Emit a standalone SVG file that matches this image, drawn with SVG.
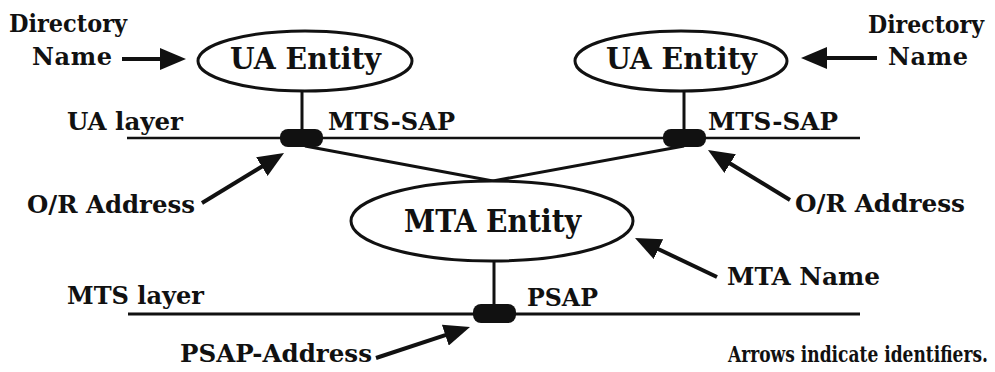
<svg xmlns="http://www.w3.org/2000/svg" width="995" height="372" viewBox="0 0 995 372">
<style>
text{font-family:"DejaVu Serif","Liberation Serif",serif;font-weight:bold;fill:#111;}
.lab{font-size:24px;}
.ent{font-size:29px;}
.mta{font-size:32px;}
.note{font-size:17px;}
.ell{fill:#fff;stroke:#111;stroke-width:3;}
.ln{stroke:#111;stroke-width:2.5;fill:none;}
.thick{stroke:#111;stroke-width:3;fill:none;}
.arr{stroke:#111;stroke-width:4;fill:none;marker-end:url(#ah);}
.sap{fill:#111;}
</style>
<defs>
<marker id="ah" markerUnits="userSpaceOnUse" markerWidth="26" markerHeight="22" refX="16" refY="11" orient="auto">
<path d="M0,0 L26,11 L0,22 z" fill="#111"/>
</marker>
</defs>
<g id="layers">
<line class="ln" x1="127" y1="138" x2="860" y2="138"/>
<line class="thick" x1="128" y1="314" x2="860" y2="314"/>
<text class="lab" x="67" y="130" textLength="116" lengthAdjust="spacingAndGlyphs">UA layer</text>
<text class="lab" x="67" y="304" textLength="137" lengthAdjust="spacingAndGlyphs">MTS layer</text>
</g>
<g id="connectors">
<line class="thick" x1="302" y1="90" x2="302" y2="132"/>
<line class="thick" x1="684" y1="90" x2="684" y2="132"/>
<line class="thick" x1="494" y1="261" x2="494" y2="306"/>
<line class="thick" x1="305" y1="146" x2="493" y2="181"/>
<line class="thick" x1="684" y1="146" x2="493" y2="181"/>
</g>
<g id="ua-left">
<ellipse class="ell" cx="305" cy="61" rx="107" ry="30"/>
<text class="ent" x="230" y="69" textLength="151" lengthAdjust="spacingAndGlyphs">UA Entity</text>
</g>
<g id="ua-right">
<ellipse class="ell" cx="681" cy="61" rx="106" ry="30"/>
<text class="ent" x="606" y="69" textLength="151" lengthAdjust="spacingAndGlyphs">UA Entity</text>
</g>
<g id="mta">
<ellipse class="ell" cx="492" cy="221" rx="141" ry="40"/>
<text class="mta" x="404" y="232" textLength="177" lengthAdjust="spacingAndGlyphs">MTA Entity</text>
</g>
<g id="sap-left">
<rect class="sap" x="280" y="129" width="43" height="18" rx="8"/>
<text class="lab" x="328" y="130" textLength="127" lengthAdjust="spacingAndGlyphs">MTS-SAP</text>
</g>
<g id="sap-right">
<rect class="sap" x="663" y="129" width="43" height="18" rx="8"/>
<text class="lab" x="708" y="130" textLength="130" lengthAdjust="spacingAndGlyphs">MTS-SAP</text>
</g>
<g id="psap">
<rect class="sap" x="473" y="304" width="43" height="19" rx="8"/>
<text class="lab" x="527" y="306" textLength="71" lengthAdjust="spacingAndGlyphs">PSAP</text>
</g>
<g id="identifiers">
<text class="lab" x="9" y="32" textLength="118" lengthAdjust="spacingAndGlyphs">Directory</text>
<text class="lab" x="32" y="65" textLength="80" lengthAdjust="spacing">Name</text>
<line class="arr" x1="122" y1="59" x2="176" y2="59"/>
<text class="lab" x="868" y="33" textLength="116" lengthAdjust="spacingAndGlyphs">Directory</text>
<text class="lab" x="888" y="65" textLength="80" lengthAdjust="spacing">Name</text>
<line class="arr" x1="877" y1="58" x2="811" y2="58"/>
<text class="lab" x="27" y="213" textLength="168" lengthAdjust="spacingAndGlyphs">O/R Address</text>
<line class="arr" x1="202" y1="203" x2="275.5" y2="158.2"/>
<text class="lab" x="795" y="212" textLength="170" lengthAdjust="spacingAndGlyphs">O/R Address</text>
<line class="arr" x1="790" y1="200" x2="716.5" y2="155.2"/>
<text class="lab" x="727" y="285" textLength="153" lengthAdjust="spacingAndGlyphs">MTA Name</text>
<line class="arr" x1="717" y1="277" x2="644" y2="242.3"/>
<text class="lab" x="180" y="362" textLength="192" lengthAdjust="spacingAndGlyphs">PSAP-Address</text>
<line class="arr" x1="376" y1="358" x2="460.5" y2="330.1"/>
</g>
<g id="note">
<text class="note" transform="translate(728 362) scale(1 1.3)" x="0" y="0" textLength="260" lengthAdjust="spacingAndGlyphs">Arrows indicate identifiers.</text>
</g>
</svg>
